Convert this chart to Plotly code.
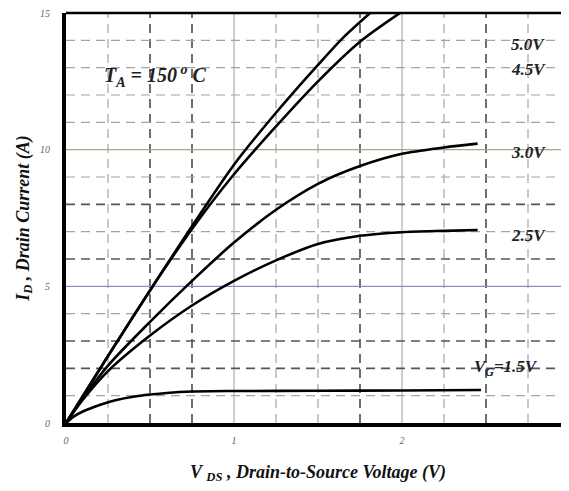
import plotly.graph_objects as go

# ---- data ----
v_50 = [0, 0.25, 0.5, 0.75, 1.0, 1.25, 1.5, 1.65, 1.82]
i_50 = [0, 2.45, 4.85, 7.2, 9.45, 11.35, 13.1, 14.1, 15.05]

v_45 = [0, 0.25, 0.5, 0.75, 1.0, 1.25, 1.5, 1.75, 2.0]
i_45 = [0, 2.45, 4.85, 7.1, 9.1, 10.85, 12.5, 13.95, 15.05]

v_30 = [0, 0.1, 0.25, 0.5, 0.75, 1.0, 1.25, 1.5, 1.75, 2.0, 2.25, 2.45]
i_30 = [0, 0.9, 2.1, 3.7, 5.2, 6.6, 7.8, 8.75, 9.4, 9.85, 10.08, 10.22]

v_25 = [0, 0.1, 0.25, 0.5, 0.75, 1.0, 1.25, 1.5, 1.75, 2.0, 2.25, 2.45]
i_25 = [0, 0.85, 1.9, 3.2, 4.3, 5.2, 5.95, 6.55, 6.85, 6.98, 7.03, 7.06]

v_15 = [0, 0.05, 0.1, 0.2, 0.3, 0.4, 0.5, 0.6, 0.75, 1.0, 1.5, 2.0, 2.47]
i_15 = [0, 0.25, 0.42, 0.66, 0.84, 0.96, 1.04, 1.1, 1.15, 1.17, 1.18, 1.19, 1.21]

curve_labels = ["5.0V", "4.5V", "3.0V", "2.5V", "V<sub>G</sub>=1.5V"]
label_pos_v = [2.75, 2.75, 2.75, 2.75, 2.62]
label_pos_i = [13.85, 12.95, 9.9, 6.85, 2.0]

x_ticks = [0, 1, 2, 3]
y_ticks = [0, 5, 10, 15]

x_grid_solid = [1, 2]
x_grid_dark = [0.5, 0.75, 1.75, 2.5]
x_grid_light = [0.25, 1.25, 1.5, 2.25, 2.75]
y_grid_dark = [2, 3, 6, 8]
y_grid_light = [1, 4, 7, 9, 11, 12, 13, 14]
y_grid_solid = [5, 10]
y_grid_solid_colors = ["#8c8cc8", "#a8a880"]

serif = "Liberation Serif, Times New Roman, serif"

fig = go.Figure()

for vx, iy in [(v_50, i_50), (v_45, i_45), (v_30, i_30), (v_25, i_25), (v_15, i_15)]:
    fig.add_trace(go.Scatter(x=vx, y=iy, mode="lines",
                             line=dict(color="black", width=2.6, shape="spline", smoothing=0.8),
                             showlegend=False, hoverinfo="skip"))

shapes = []
for xv in x_grid_light:
    shapes.append(dict(type="line", xref="x", yref="paper", x0=xv, x1=xv, y0=0, y1=1,
                       line=dict(color="#a4a2b4", width=1.2, dash="9px,6px"), layer="below"))
for xv in x_grid_dark:
    shapes.append(dict(type="line", xref="x", yref="paper", x0=xv, x1=xv, y0=0, y1=1,
                       line=dict(color="#4a4a55", width=1.6, dash="9px,6px"), layer="below"))
for xv in x_grid_solid:
    shapes.append(dict(type="line", xref="x", yref="paper", x0=xv, x1=xv, y0=0, y1=1,
                       line=dict(color="#a8b0a8", width=1.2), layer="below"))
for yv in y_grid_light:
    shapes.append(dict(type="line", xref="paper", yref="y", x0=0, x1=1, y0=yv, y1=yv,
                       line=dict(color="#a4a2b0", width=1.2, dash="9px,6px"), layer="below"))
for yv in y_grid_dark:
    shapes.append(dict(type="line", xref="paper", yref="y", x0=0, x1=1, y0=yv, y1=yv,
                       line=dict(color="#55555e", width=1.6, dash="9px,6px"), layer="below"))
for yv, col in zip(y_grid_solid, y_grid_solid_colors):
    shapes.append(dict(type="line", xref="paper", yref="y", x0=0, x1=1, y0=yv, y1=yv,
                       line=dict(color=col, width=1.2), layer="below"))
# top border
shapes.append(dict(type="line", xref="paper", yref="paper", x0=0, x1=1, y0=1, y1=1,
                   line=dict(color="black", width=2.5)))

annotations = []
for txt, ax_, ay_ in zip(curve_labels, label_pos_v, label_pos_i):
    annotations.append(dict(x=ax_, y=ay_, xref="x", yref="y", text="<b><i>%s</i></b>" % txt,
                            showarrow=False, font=dict(family=serif, size=17, color="#222222")))
annotations.append(dict(x=0.53, y=12.7, xref="x", yref="y",
                        text="<b><i>T<sub>A</sub> = 150<sup> o</sup> C</i></b>",
                        showarrow=False, font=dict(family=serif, size=20, color="#222222")))

# page body has an 8px default margin; margins compensate for it
fig.update_layout(
    width=569, height=491,
    margin=dict(l=58, r=7, t=5, b=76),
    plot_bgcolor="white", paper_bgcolor="white",
    shapes=shapes, annotations=annotations,
    showlegend=False,
    xaxis=dict(range=[0, 3], tickvals=x_ticks, ticktext=[str(t) for t in x_ticks],
               automargin=False, ticklabeloverflow="allow",
               showgrid=False, zeroline=False, showline=True, linecolor="black", linewidth=4,
               ticks="", ticklabelstandoff=5,
               tickfont=dict(family=serif, size=10, color="#666666", style="italic"),
               title=dict(text="<b><i>V <sub>DS</sub> , Drain-to-Source Voltage (V)</i></b>",
                          font=dict(family=serif, size=18, color="#111111"), standoff=21)),
    yaxis=dict(range=[0, 15], tickvals=y_ticks, ticktext=[str(t) for t in y_ticks],
               automargin=False, ticklabeloverflow="allow",
               showgrid=False, zeroline=False, showline=True, linecolor="black", linewidth=4,
               ticks="", ticklabelstandoff=10,
               tickfont=dict(family=serif, size=10, color="#666666", style="italic"),
               title=dict(text="<b><i>I<sub>D</sub> , Drain Current (A)</i></b>",
                          font=dict(family=serif, size=18, color="#111111"), standoff=7)),
)

fig.write_html("out.html")
